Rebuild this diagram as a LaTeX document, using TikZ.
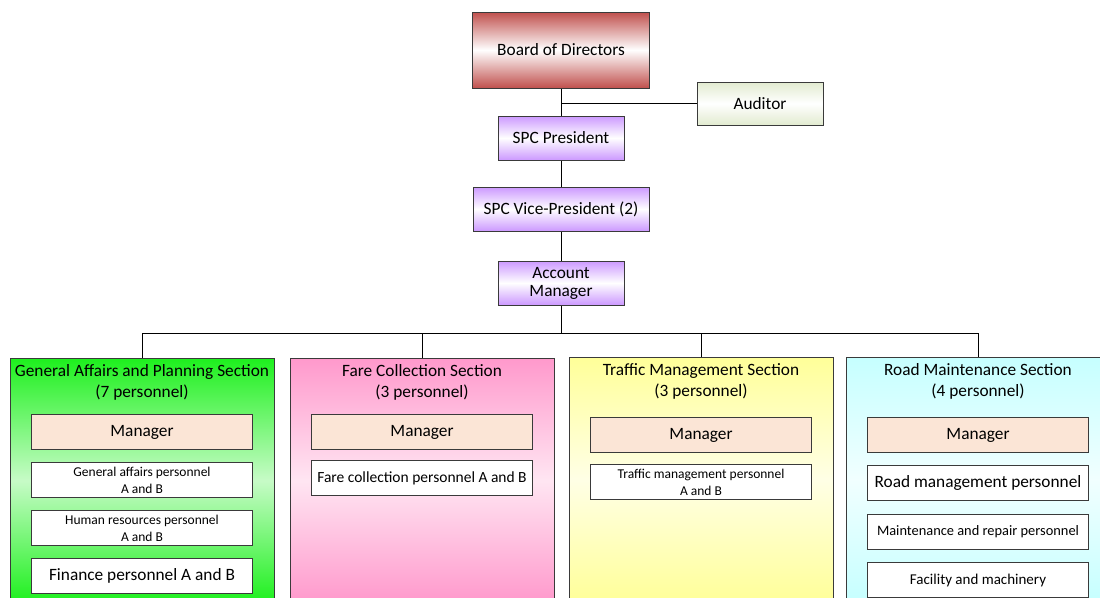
\documentclass[tikz,border=0pt]{standalone}
\usepackage{fontspec}
\setmainfont{Carlito}
\usetikzlibrary{positioning}
\definecolor{boardred}{HTML}{C0504D}
\definecolor{spcviolet}{HTML}{CC99FF}
\definecolor{audgreen}{HTML}{E2EBD0}
\definecolor{mgrpeach}{HTML}{FBE5D6}
\definecolor{secgreen}{HTML}{1EF01E}
\definecolor{secpink}{HTML}{FF99CC}
\definecolor{secyellow}{HTML}{FFFF99}
\definecolor{seccyan}{HTML}{C6FFFF}
\definecolor{edgegray}{HTML}{3A3A3A}

\begin{document}
\begin{tikzpicture}[x=1pt,y=1pt,font=\fontsize{17.3}{21}\selectfont]
\tikzset{topbox/.style={draw=edgegray,line width=1pt,align=center,minimum height=44pt,inner sep=1pt,shading=axis,top color=#1,bottom color=#1,middle color=white},
section/.style={draw=edgegray,line width=1pt,anchor=north,minimum width=264pt,minimum height=244pt,inner sep=0pt,shading=axis,top color=#1,bottom color=#1,middle color=white!75!#1},
sectitle/.style={align=center,inner sep=0pt,anchor=north},
mgr/.style={draw=edgegray,line width=1pt,fill=mgrpeach,minimum width=221pt,minimum height=35pt,inner sep=1pt},
staff/.style={draw=edgegray,line width=1pt,fill=white,minimum width=221pt,minimum height=35pt,align=center,inner sep=1pt},
staffsm/.style={staff,font=\fontsize{13.5}{17}\selectfont},
link/.style={draw=black,line width=0.9pt}}
\useasboundingbox (0,0) rectangle (1100,-597);
\clip (0,0) rectangle (1100,-597);
% top of the chart
\node[topbox=boardred,minimum width=177pt,minimum height=76pt] (board) at (561,-50) {Board of Directors};
\node[topbox=audgreen,minimum width=126pt,minimum height=43pt] (aud) at (760,-103.5) {Auditor};
\node[topbox=spcviolet,minimum width=126pt,below=27pt of board] (pres) {SPC President};
\node[topbox=spcviolet,minimum width=176pt,below=26pt of pres] (vp) {SPC Vice-President (2)};
\node[topbox=spcviolet,minimum width=126pt,below=29pt of vp] (acc) {Account\\[-3pt]Manager};
\coordinate[below=28pt of acc] (bus);
% sections
\node[section=secgreen] (gap) at (142,-358) {};
\node[section=secpink,right=15pt of gap.north east,anchor=north west] (fare) {};
\node[section=secyellow,right=14pt of fare.north east,anchor=north west,yshift=1pt] (traf) {};
\node[section=seccyan,right=12pt of traf.north east,anchor=north west] (road) {};
\node[sectitle,below=6pt of gap.north] (gaptitle) {General Affairs and Planning Section\\(7 personnel)};
\node[sectitle,below=6pt of fare.north] (faretitle) {Fare Collection Section\\(3 personnel)};
\node[sectitle,below=6pt of traf.north] (traftitle) {Traffic Management Section\\(3 personnel)};
\node[sectitle,below=6pt of road.north] (roadtitle) {Road Maintenance Section\\(4 personnel)};
% general affairs and planning
\node[mgr,below=56pt of gap.north,anchor=north] (gapmgr) {Manager};
\node[staffsm,below=12pt of gapmgr] (gapga) {General affairs personnel\\A and B};
\node[staffsm,below=12pt of gapga] (gaphr) {Human resources personnel\\A and B};
\node[staff,below=12pt of gaphr] (gapfin) {Finance personnel A and B};
% fare collection
\node[mgr,below=56pt of fare.north,anchor=north] (faremgr) {Manager};
\node[staff,font=\fontsize{15.5}{18}\selectfont,below=10pt of faremgr] (farestaff) {Fare collection personnel A and B};
% traffic management
\node[mgr,below=60pt of traf.north,anchor=north] (trafmgr) {Manager};
\node[staffsm,below=11pt of trafmgr] (trafstaff) {Traffic management personnel\\A and B};
% road maintenance
\node[mgr,below=60pt of road.north,anchor=north] (roadmgr) {Manager};
\node[staff,below=12pt of roadmgr] (roadrm) {Road management personnel};
\node[staff,font=\fontsize{14.4}{17}\selectfont,below=13pt of roadrm] (roadrep) {Maintenance and repair personnel};
\node[staff,font=\fontsize{15}{17}\selectfont,below=12pt of roadrep] (roadfac) {Facility and machinery};
% connectors
\draw[link] (board) -- (pres);
\draw[link] (board.south |- aud.west) -- (aud.west);
\draw[link] (pres) -- (vp);
\draw[link] (vp) -- (acc);
\draw[link] (acc) -- (bus);
\draw[link] (gap.north) |- (bus) -| (road.north);
\draw[link] (fare.north) -- (fare.north |- bus);
\draw[link] (traf.north) -- (traf.north |- bus);
\end{tikzpicture}
\end{document}
